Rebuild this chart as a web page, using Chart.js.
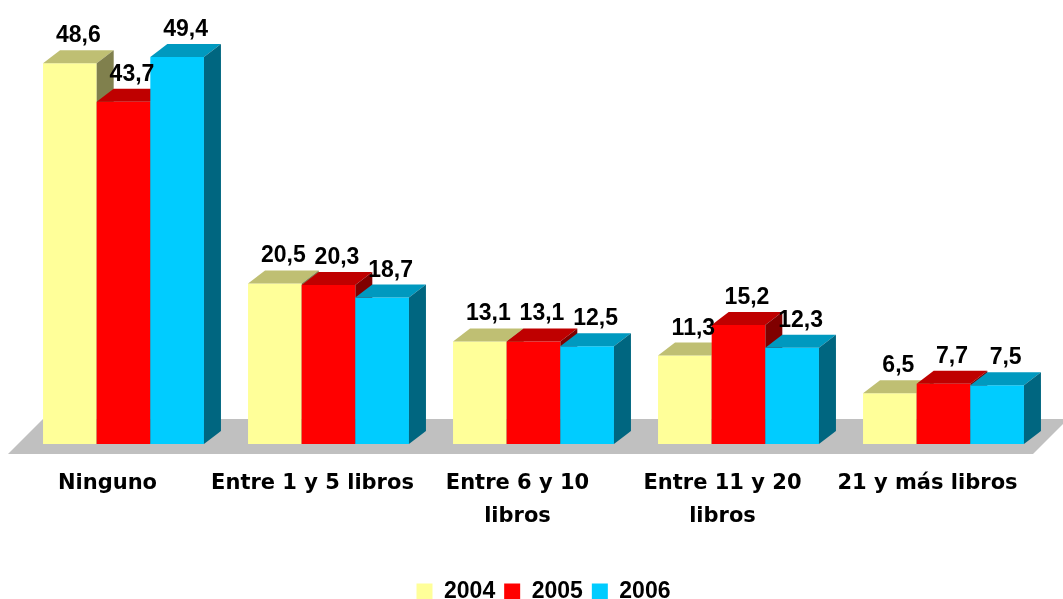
<!DOCTYPE html>
<html>
<head>
<meta charset="utf-8">
<script src="https://cdn.jsdelivr.net/npm/chart.js@4"></script>
<style>
  html, body { margin: 0; padding: 0; background: #fff; }
</style>
</head>
<body>
<canvas id="chart" width="1063" height="599"></canvas>
<script>
const categories = ['Ninguno', 'Entre 1 y 5 libros', ['Entre 6 y 10', 'libros'], ['Entre 11 y 20', 'libros'], '21 y más libros']
const years = ['2004', '2005', '2006']
const values2004 = [48.6, 20.5, 13.1, 11.3, 6.5]
const values2005 = [43.7, 20.3, 13.1, 15.2, 7.7]
const values2006 = [49.4, 18.7, 12.5, 12.3, 7.5]

const frontColors = ['#FFFF99', '#FF0000', '#00CCFF']
const topColors = ['#BFBF73', '#BF0000', '#0099BF']
const sideColors = ['#80804D', '#800000', '#006680']

// 3d look: depth of the boxes and shift of the bars behind the floor edge
const DX = 17, DY = -13, SHIFT = 16

function poly(ctx, pts, color) {
  ctx.fillStyle = color
  ctx.beginPath()
  ctx.moveTo(pts[0][0], pts[0][1])
  for (let k = 1; k < pts.length; k++) ctx.lineTo(pts[k][0], pts[k][1])
  ctx.closePath()
  ctx.fill()
}

const threeD = {
  id: 'threeD',
  afterLayout(chart) {
    // nudge legend to the right like the original
    chart.legend.left += 52
  },
  beforeDatasetsDraw(chart) {
    const ctx = chart.ctx
    const base = chart.scales.y.getPixelForValue(0)
    const { left, right } = chart.chartArea
    ctx.save()
    poly(ctx, [[left + 3, base + 10], [right + 3, base + 10], [right + 38, base - 25], [left + 38, base - 25]], '#C0C0C0')
    ctx.translate(SHIFT, 0)
    const metas = chart.data.datasets.map((d, i) => chart.getDatasetMeta(i))
    for (let j = 0; j < categories.length; j++) {
      metas.forEach((meta, i) => {
        const bar = meta.data[j]
        const x0 = bar.x - bar.width / 2
        const x1 = bar.x + bar.width / 2
        const y = bar.y
        bar.draw(ctx)
        poly(ctx, [[x0, y], [x1, y], [x1 + DX, y + DY], [x0 + DX, y + DY]], topColors[i])
        poly(ctx, [[x1, base], [x1, y], [x1 + DX, y + DY], [x1 + DX, base + DY]], sideColors[i])
      })
    }
    ctx.fillStyle = '#000'
    ctx.font = 'bold 23px "Liberation Sans", Arial'
    ctx.textAlign = 'center'
    ctx.textBaseline = 'alphabetic'
    metas.forEach((meta, i) => {
      meta.data.forEach((bar, j) => {
        const v = chart.data.datasets[i].data[j]
        ctx.fillText(v.toFixed(1).replace('.', ','), bar.x + DX / 2, bar.y + DY - 8)
      })
    })
    ctx.restore()
    return false
  }
}

new Chart(document.getElementById('chart'), {
  type: 'bar',
  data: {
    labels: categories,
    datasets: [
      { label: years[0], data: values2004, backgroundColor: frontColors[0] },
      { label: years[1], data: values2005, backgroundColor: frontColors[1] },
      { label: years[2], data: values2006, backgroundColor: frontColors[2] },
    ],
  },
  options: {
    responsive: false,
    animation: false,
    datasets: { bar: { categoryPercentage: 0.785, barPercentage: 1, borderWidth: 0 } },
    layout: { padding: { top: 21, left: 5, right: 33, bottom: -14 } },
    scales: {
      y: { display: false, min: 0, max: 54 },
      x: {
        afterFit(scale) { scale.height += 23 },
        grid: { display: false },
        border: { display: false },
        ticks: {
          color: '#000',
          font: { family: 'DejaVu Sans', size: 21, weight: 'bold', lineHeight: 1.57 },
          padding: 15,
          maxRotation: 0,
          autoSkip: false,
        },
      },
    },
    plugins: {
      tooltip: { enabled: false },
      legend: {
        position: 'bottom',
        labels: {
          color: '#000',
          boxWidth: 16,
          boxHeight: 16,
          padding: 9,
          font: { family: 'Liberation Sans', size: 23, weight: 'bold' },
        },
      },
    },
  },
  plugins: [threeD],
})
</script>
</body>
</html>
